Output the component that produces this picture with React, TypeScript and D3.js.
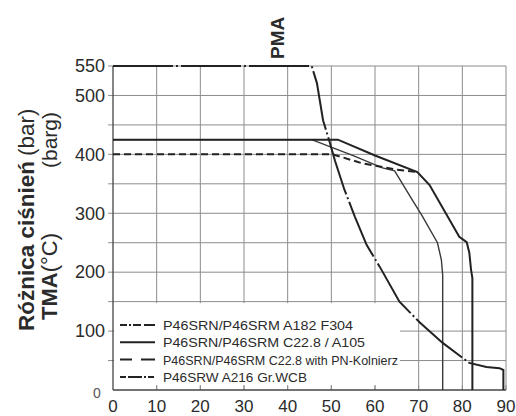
import React from "react";
import * as d3 from "d3";

// ---- data ----
const xTicks = [0, 10, 20, 30, 40, 50, 60, 70, 80, 90];
const yTickLabels = [550, 500, 400, 300, 200, 100];
const yGrid = [50, 100, 150, 200, 250, 300, 350, 400, 450, 500, 550];

// P46SRW A216 Gr.WCB (550 bar curve)
const wcbT = [0, 45.5, 46.7, 48.1, 49.7, 50.8, 53, 55.4, 58.1, 61.1, 65.6, 70.2, 75.5, 81.6, 85.5, 88.5, 89.4, 89.4];
const wcbP = [550, 550, 521, 458, 419, 390, 340, 294, 246, 209, 150, 115, 80, 46, 39, 37, 34, 0];

// P46SRN/P46SRM A182 F304
const f304T = [0, 45.5, 55, 61.7, 64.5, 68.6, 70.7, 74.3, 75.2, 75.5, 75.5];
const f304P = [425, 425, 398, 377, 372, 322, 297, 250, 221, 195, 0];

// P46SRN/P46SRM C22.8 / A105
const a105T = [0, 51.5, 60, 69.7, 72.5, 79.3, 81, 81.6, 82, 82.3, 82.3];
const a105P = [425, 425, 398, 370, 348, 260, 251, 233, 204, 190, 0];

// P46SRN/P46SRM C22.8 with PN-Kolnierz
const pnT = [0, 50.3, 57, 65, 69.7];
const pnP = [400, 400, 385, 374, 370];

const legendLabels = [
  "P46SRN/P46SRM A182 F304",
  "P46SRN/P46SRM C22.8 / A105",
  "P46SRN/P46SRM C22.8 with PN-Kolnierz",
  "P46SRW A216 Gr.WCB",
];
const legendDash = ["7,2,2,2,8,3,12", "none", "12,9,14", "6,2,14,2,2,2"];
const legendWidths = [190, 202, 235, 144];

export default function App() {
  const x = d3.scaleLinear().domain([0, 90]).range([113, 506]);
  const y = d3.scaleLinear().domain([0, 550]).range([390, 66]);
  const mk = (ts: number[], ps: number[]) =>
    d3.line<number>().x((_, i) => x(ts[i])).y((_, i) => y(ps[i]))(ts.map((t) => t)) || "";

  const grid = "#8c8c8c";
  const ink = "#222";
  const txt = "#2b2b2b";
  const font = "'Liberation Sans', Arial, sans-serif";

  return (
    <svg
      width={516}
      height={416}
      style={{ position: "absolute", left: 0, top: 0, background: "#fff" }}
      fontFamily={font}
    >
      <rect x={0} y={0} width={516} height={416} fill="#fff" />
      {/* grid */}
      {xTicks.slice(1).map((t) => (
        <line key={"vx" + t} x1={x(t)} x2={x(t)} y1={y(550)} y2={y(0)} stroke={grid} strokeWidth={1} />
      ))}
      {yGrid.map((v) => (
        <line key={"hy" + v} x1={x(0)} x2={x(90)} y1={y(v)} y2={y(v)} stroke={grid} strokeWidth={1} />
      ))}
      {/* legend background */}
      <rect x={x(0) + 1} y={y(150) + 1.5} width={286} height={y(0) - y(150) - 6} fill="#fff" />
      {/* small ticks */}
      {xTicks.slice(1).map((t) => (
        <line key={"tx" + t} x1={x(t)} x2={x(t)} y1={y(0)} y2={y(0) - 5} stroke={grid} strokeWidth={1} />
      ))}
      {yGrid.map((v) => (
        <line key={"ty" + v} x1={x(0) - 5} x2={x(0)} y1={y(v)} y2={y(v)} stroke={grid} strokeWidth={1} />
      ))}
      {/* axes */}
      <line x1={x(0)} x2={x(0)} y1={y(550)} y2={y(0)} stroke="#444" strokeWidth={1.3} />
      <line x1={x(0)} x2={x(90)} y1={y(0)} y2={y(0)} stroke="#444" strokeWidth={1.3} />

      {/* curves */}
      <path d={mk(f304T, f304P)} fill="none" stroke="#3a3a3a" strokeWidth={1.4} />
      <path d={mk(a105T, a105P)} fill="none" stroke={ink} strokeWidth={2} />
      <path d={mk(pnT, pnP)} fill="none" stroke={ink} strokeWidth={2} strokeDasharray="7,4" />
      <path d={mk(wcbT, wcbP)} fill="none" stroke={ink} strokeWidth={2} strokeDasharray="60,3,2,3" />

      {/* legend */}
      {legendLabels.map((l, i) => {
        const cy = 325 + i * 17.3;
        return (
          <g key={l}>
            <line x1={120} x2={155} y1={cy} y2={cy} stroke={ink} strokeWidth={2} strokeDasharray={legendDash[i]} />
            <text x={163} y={cy + 5} fontSize={13.5} fill={txt} textLength={legendWidths[i]} lengthAdjust="spacingAndGlyphs">
              {l}
            </text>
          </g>
        );
      })}

      {/* y tick labels */}
      {yTickLabels.map((v) => (
        <text key={"yl" + v} x={105} y={y(v)} dy="0.35em" textAnchor="end" fontSize={18} fill={txt}>
          {v}
        </text>
      ))}
      <text x={97} y={y(0) + 3} dy="0.35em" textAnchor="middle" fontSize={14} fill="#555">
        0
      </text>
      {/* x tick labels */}
      {xTicks.map((t) => (
        <text key={"xl" + t} x={x(t)} y={412} textAnchor="middle" fontSize={17} fill={txt}>
          {t}
        </text>
      ))}

      {/* axis titles */}
      <text transform="translate(34,331) rotate(-90)" fontSize={22.5} fill={txt}>
        <tspan fontWeight="bold">Różnica ciśnień</tspan>
        <tspan dx={5}>(bar)</tspan>
      </text>
      <text transform="translate(57,320) rotate(-90)" fontSize={22} fill={txt}>
        <tspan fontWeight="bold">TMA</tspan>
        <tspan>(°C)</tspan>
      </text>
      <text transform="translate(57,168) rotate(-90)" fontSize={21} fill={txt}>
        (barg)
      </text>
      <text transform="translate(284,59) rotate(-90)" fontSize={19} fontWeight="bold" fill={txt}>
        PMA
      </text>
    </svg>
  );
}
